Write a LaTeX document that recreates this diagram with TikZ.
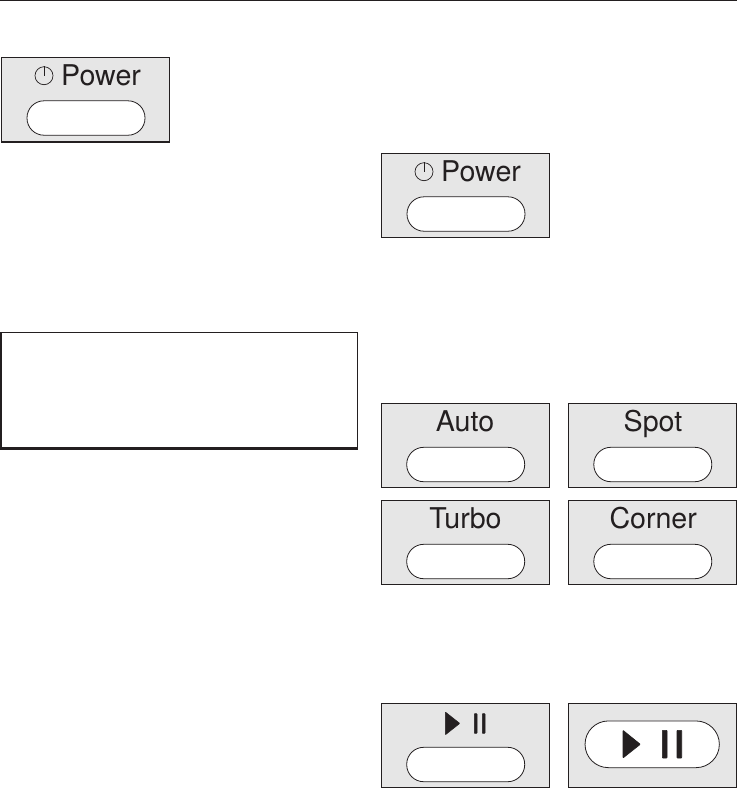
\documentclass[tikz,border=0pt]{standalone}
\usepackage{fontspec}
\setmainfont{TeX Gyre Heros}
\definecolor{panelgray}{HTML}{E6E6E6}
\definecolor{ink}{HTML}{231F20}
\tikzset{
  panel/.style={draw=ink,fill=panelgray,line width=1pt,rectangle,inner sep=0pt,minimum width=168pt,minimum height=84pt},
  btn/.style={draw=ink,fill=white,line width=0.8pt,rectangle,rounded corners=17pt,inner sep=0pt,minimum width=118pt,minimum height=34.4pt},
  bigbtn/.style={btn,rounded corners=23.3pt,minimum width=134.3pt,minimum height=46.7pt},
  lab/.style={text=ink,anchor=base,inner sep=0pt,font=\fontsize{28.6}{31}\selectfont},
  pwr/.style={draw=ink,line width=0.7pt},
  solidglyph/.style={fill=ink,draw=ink,line width=0.6pt,line join=round,rounded corners=0.6pt},
  heavy/.style={draw=ink,line width=2.4pt},
  thin/.style={draw=ink,line width=1pt}
}
\begin{document}
\begin{tikzpicture}[x=1pt,y=-1pt]
\useasboundingbox (0,0) rectangle (737,788);
% top rule
\coordinate (ruleL) at (0,0.6);
\coordinate (ruleR) at (737,0.6);
\draw[draw=ink,line width=1.4pt] (ruleL) -- (ruleR);
% first power panel
\node[panel] (p1) at (85.3,99) {};
\node[btn] (b1) at (86,118) {};
\node[lab,anchor=base west] (t1) at (61,85.7) {Power};
\node[pwr,circle,inner sep=0pt,minimum size=18pt] (c1) at (44,75.7) {};
\draw[pwr] (c1.center) -- (c1.north);
\draw[draw=ink,line width=2pt] (p1.south west) -- (p1.south east);
% framed box
\node[draw=none,rectangle,inner sep=0pt,minimum width=356.3pt,minimum height=115.8pt] (box) at (179.15,390.5) {};
\draw[thin] (box.north west) -- (box.north east) -- (box.south east);
\draw[heavy] (box.south east) -- (box.south west) -- (box.north west);
% second power panel
\node[panel] (p2) at (465.4,195) {};
\node[btn] (b2) at (466,214) {};
\node[lab,anchor=base west] (t2) at (441,181.7) {Power};
\node[pwr,circle,inner sep=0pt,minimum size=18pt] (c2) at (424,171.7) {};
\draw[pwr] (c2.center) -- (c2.north);
% mode panels
\node[panel] (pa) at (465.4,445.5) {};
\node[btn] (ba) at (465.7,464.5) {};
\node[lab] (ta) at (465,431) {Auto};
\node[panel] (ps) at (652.5,445.5) {};
\node[btn] (bs) at (652.8,464.5) {};
\node[lab] (ts) at (653,431) {Spot};
\node[panel] (pt) at (465.4,542.3) {};
\node[btn] (bt) at (465.7,561.5) {};
\node[lab] (tt) at (465.5,528) {Turbo};
\node[panel] (pc) at (652.5,542.3) {};
\node[btn] (bc) at (652.8,561.5) {};
\node[lab] (tc) at (653.2,528) {Corner};
% play panels
\node[panel] (pp) at (465.4,745.3) {};
\node[btn] (bp) at (465.7,764.5) {};
\path[solidglyph] (445.3,712) -- (459.7,723.4) -- (445.3,734.8) -- cycle;
\path[solidglyph] (474.3,713.6) rectangle (477,733.4);
\path[solidglyph] (482.3,713.6) rectangle (485,733.4);
\node[panel] (pq) at (652.5,745.3) {};
\node[bigbtn] (bq) at (652.2,744.3) {};
\path[solidglyph] (623,730.3) -- (640.3,744.3) -- (623,758) -- cycle;
\path[solidglyph] (662.3,730.3) rectangle (667,758);
\path[solidglyph] (677,730.3) rectangle (681.7,758);
\end{tikzpicture}
\end{document}
